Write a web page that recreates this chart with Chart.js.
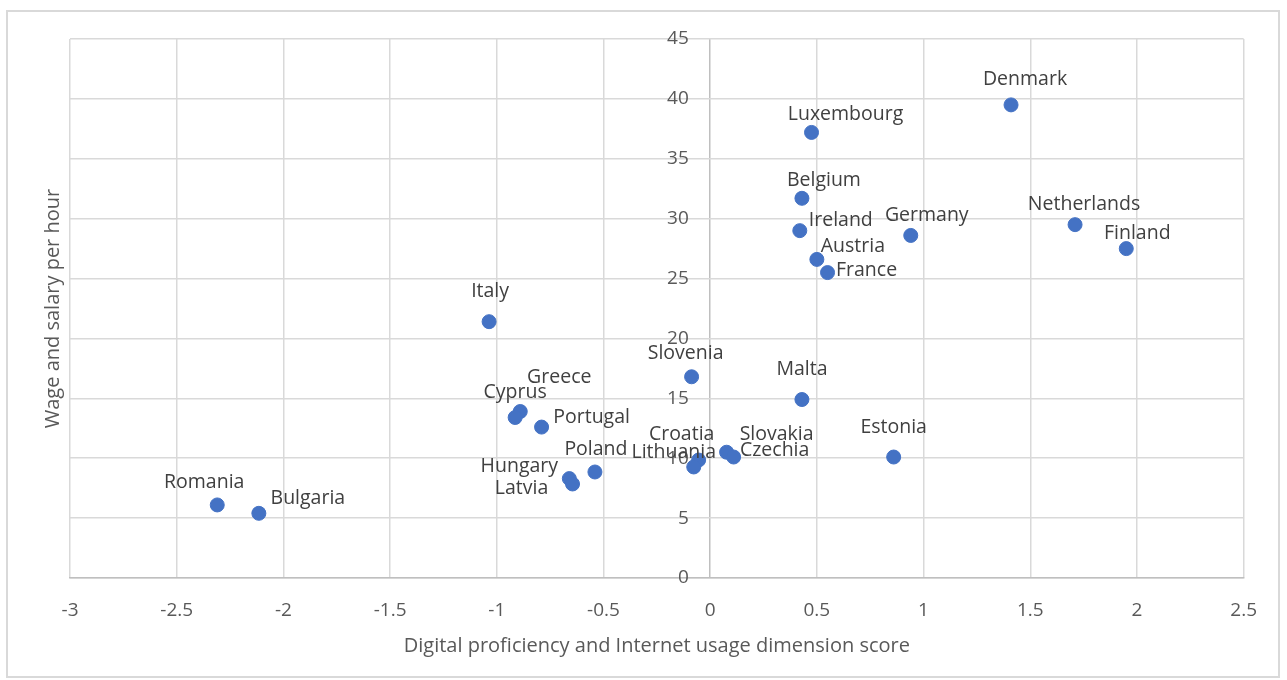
<!DOCTYPE html>
<html>
<head>
<meta charset="utf-8">
<script src="https://cdn.jsdelivr.net/npm/chart.js@4.4.1/dist/chart.umd.min.js"></script>
<style>
    html, body { margin: 0; padding: 0; background: #fff; }
    .frame {
        position: absolute;
        left: 6px;
        top: 10px;
        width: 1270px;
        height: 664px;
        border: 2px solid #d9d9d9;
    }
    canvas { display: block; }
</style>
</head>
<body>
<div class="frame"><canvas id="scatterChart" width="1270" height="664"></canvas></div>
<script>
// Country names and their values
const countries = ['Denmark', 'Luxembourg', 'Belgium', 'Ireland', 'Germany', 'Netherlands', 'Finland',
    'Austria', 'France', 'Italy', 'Slovenia', 'Malta', 'Greece', 'Cyprus', 'Portugal', 'Poland',
    'Hungary', 'Latvia', 'Croatia', 'Lithuania', 'Slovakia', 'Czechia', 'Estonia', 'Romania', 'Bulgaria'];
const digitalScore = [1.41, 0.475, 0.43, 0.42, 0.94, 1.71, 1.95,
    0.50, 0.55, -1.036, -0.087, 0.43, -0.89, -0.914, -0.79, -0.54,
    -0.66, -0.645, -0.054, -0.077, 0.077, 0.11, 0.86, -2.31, -2.115];
const wagePerHour = [39.5, 37.2, 31.7, 29.0, 28.6, 29.5, 27.5,
    26.6, 25.5, 21.4, 16.8, 14.9, 13.9, 13.4, 12.6, 8.85,
    8.3, 7.85, 9.85, 9.27, 10.5, 10.1, 10.1, 6.1, 5.4];

// Where each label sits relative to its point (pixels)
const labelOffsets = {
    Denmark: [14, -25], Luxembourg: [34, -18], Belgium: [22, -18], Ireland: [41, -10],
    Germany: [16, -20], Netherlands: [9, -20], Finland: [11, -15], Austria: [36, -13],
    France: [39, -2], Italy: [1, -30], Slovenia: [-6, -23], Malta: [0, -30],
    Greece: [39, -34], Cyprus: [0, -25], Portugal: [50, -10], Poland: [1, -23],
    Hungary: [-50, -12], Latvia: [-51, 4], Croatia: [-17, -26], Lithuania: [-20, -15],
    Slovakia: [50, -18], Czechia: [41, -7], Estonia: [0, -30], Romania: [-13, -22],
    Bulgaria: [49, -15]
};

const fontFamily = '"Open Sans", "Noto Sans", sans-serif';
const gridColor = '#d9d9d9';
const axisColor = '#bfbfbf';

// Draw the country name next to each point
const pointLabels = {
    id: 'pointLabels',
    afterDatasetsDraw(chart) {
        const ctx = chart.ctx;
        const meta = chart.getDatasetMeta(0);
        ctx.save();
        ctx.font = '19.5px ' + fontFamily;
        ctx.fillStyle = '#404040';
        ctx.textAlign = 'center';
        ctx.textBaseline = 'middle';
        meta.data.forEach((pt, i) => {
            const off = labelOffsets[countries[i]] || [0, -25];
            ctx.fillText(countries[i], pt.x + off[0], pt.y + off[1]);
        });
        ctx.restore();
    }
};

const points = digitalScore.map((x, i) => ({ x: x, y: wagePerHour[i] }));

const ctx = document.getElementById('scatterChart').getContext('2d');
new Chart(ctx, {
    type: 'scatter',
    data: {
        datasets: [{
            label: 'Countries',
            data: points,
            backgroundColor: '#4472C4',
            borderColor: '#4472C4',
            pointRadius: 7,
            pointHoverRadius: 7
        }]
    },
    options: {
        responsive: false,
        animation: false,
        events: [],
        layout: {
            padding: { left: 33, right: 32, top: 27, bottom: 0 }
        },
        plugins: {
            legend: { display: false },
            tooltip: { enabled: false }
        },
        scales: {
            x: {
                type: 'linear',
                position: 'bottom',
                min: -3,
                max: 2.5,
                afterFit: scale => { scale.height = 98; },
                ticks: {
                    stepSize: 0.5,
                    padding: 21,
                    color: '#595959',
                    font: { family: fontFamily, size: 19 },
                    callback: v => String(v)
                },
                // the line at x = 0 doubles as the vertical axis
                grid: {
                    color: c => (c.tick && c.tick.value === 0 ? axisColor : gridColor),
                    lineWidth: 1.5,
                    drawTicks: false
                },
                border: { display: true, color: axisColor, width: 1.5 },
                title: {
                    display: true,
                    text: 'Digital proficiency and Internet usage dimension score',
                    color: '#595959',
                    font: { family: fontFamily, size: 20 },
                    padding: { top: 10, bottom: 18 }
                }
            },
            y: {
                type: 'linear',
                // labels sit a little left of the x = 0 line
                position: { x: -0.1 },
                min: 0,
                max: 45,
                // axis sits inside the plot, so it should not take room at the side
                afterFit: scale => { scale.width = 0; },
                ticks: {
                    stepSize: 5,
                    color: '#595959',
                    font: { family: fontFamily, size: 19 }
                },
                grid: { color: gridColor, lineWidth: 1.5, drawTicks: false },
                border: { display: false }
            },
            yTitle: {
                type: 'linear',
                axis: 'y',
                position: 'left',
                min: 0,
                max: 45,
                ticks: { display: false },
                grid: { display: false, drawTicks: false },
                border: { display: false },
                title: {
                    display: true,
                    text: 'Wage and salary per hour',
                    color: '#595959',
                    font: { family: fontFamily, size: 20 },
                    padding: { top: 0, bottom: 5 }
                }
            }
        }
    },
    plugins: [pointLabels]
});
</script>
</body>
</html>
